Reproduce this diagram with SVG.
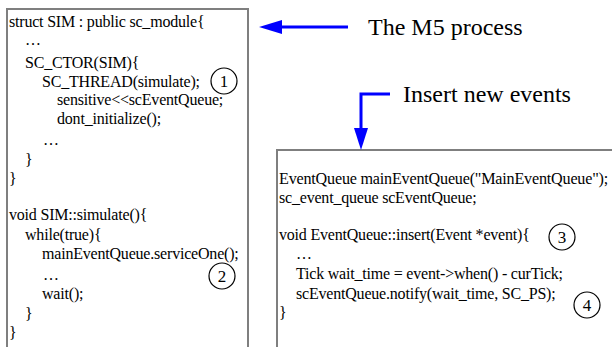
<svg xmlns="http://www.w3.org/2000/svg" width="612" height="347" viewBox="0 0 612 347">
<style>
text{font-family:"Liberation Serif","Times New Roman",serif;fill:#000}
.code{font-size:16px;letter-spacing:-0.2px}
.lbl{font-size:24px}
.n{font-size:17px}
.box{fill:#fff;stroke:#7f7f7f;stroke-width:2}
.num{fill:none;stroke:#000;stroke-width:1.2}
.conn{fill:none;stroke:#0000ff;stroke-width:3}
.head{fill:#0000ff}
</style>
<rect width="612" height="347" fill="#fff"/>
<g id="sim-box">
<rect class="box" x="7" y="9" width="241" height="360"/>
<text class="code" x="9" y="27">struct SIM : public sc_module{</text>
<text class="code" x="25" y="45">…</text>
<text class="code" x="25" y="68">SC_CTOR(SIM){</text>
<text class="code" x="42" y="87">SC_THREAD(simulate);</text>
<text class="code" x="57" y="105">sensitive&lt;&lt;scEventQueue;</text>
<text class="code" x="57" y="124">dont_initialize();</text>
<text class="code" x="43" y="145">…</text>
<text class="code" x="25" y="165">}</text>
<text class="code" x="9" y="184">}</text>
<text class="code" x="9" y="220">void SIM::simulate(){</text>
<text class="code" x="25" y="240">while(true){</text>
<text class="code" x="42" y="259">mainEventQueue.serviceOne();</text>
<text class="code" x="43" y="280">…</text>
<text class="code" x="42" y="299">wait();</text>
<text class="code" x="25" y="319">}</text>
<text class="code" x="9" y="338">}</text>
</g>
<g id="eventqueue-box">
<rect class="box" x="277" y="150" width="345" height="220"/>
<text class="code" x="279" y="184" textLength="329" lengthAdjust="spacingAndGlyphs">EventQueue mainEventQueue("MainEventQueue");</text>
<text class="code" x="279" y="203">sc_event_queue scEventQueue;</text>
<text class="code" x="279" y="240">void EventQueue::insert(Event *event){</text>
<text class="code" x="296" y="259">…</text>
<text class="code" x="296" y="279">Tick wait_time = event-&gt;when() - curTick;</text>
<text class="code" x="296" y="299">scEventQueue.notify(wait_time, SC_PS);</text>
<text class="code" x="279" y="318">}</text>
</g>
<g id="marker-1">
<circle class="num" cx="224" cy="81" r="13"/>
<text class="n" x="224" y="87" text-anchor="middle">1</text>
</g>
<g id="marker-2">
<circle class="num" cx="222" cy="276" r="13"/>
<text class="n" x="222" y="282" text-anchor="middle">2</text>
</g>
<g id="marker-3">
<circle class="num" cx="562" cy="237" r="13"/>
<text class="n" x="562" y="243" text-anchor="middle">3</text>
</g>
<g id="marker-4">
<circle class="num" cx="587" cy="305" r="13"/>
<text class="n" x="587" y="311" text-anchor="middle">4</text>
</g>
<g id="label-m5">
<text class="lbl" x="368" y="35">The M5 process</text>
</g>
<g id="label-insert">
<text class="lbl" x="403" y="102">Insert new events</text>
</g>
<g id="connectors">
<line class="conn" x1="348" y1="27" x2="280" y2="27"/>
<polygon class="head" points="259,27 282,20 282,34"/>
<polyline class="conn" points="390,94 361,94 361,130"/>
<polygon class="head" points="361,150 354,128 368,128"/>
</g>
</svg>
